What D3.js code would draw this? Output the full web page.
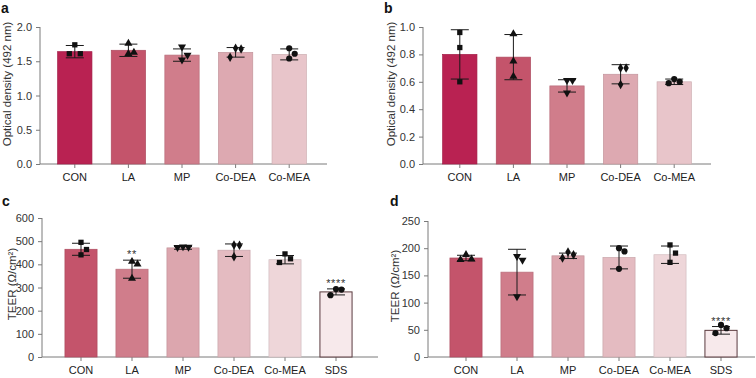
<!DOCTYPE html>
<html><head><meta charset="utf-8">
<script src="https://cdn.jsdelivr.net/npm/d3@7/dist/d3.min.js"></script>
<style>body{margin:0;background:#fff}svg{display:block;font-family:"Liberation Sans",Arial,sans-serif}</style>
</head><body><svg id="c" width="756" height="378"></svg>
<script>
// ---------- data ----------
const catsAB = ["CON","LA","MP","Co-DEA","Co-MEA"];
const catsCD = ["CON","LA","MP","Co-DEA","Co-MEA","SDS"];

const meansA = [1.64, 1.66, 1.59, 1.63, 1.60];
const errA   = [0.09, 0.09, 0.09, 0.07, 0.08];
const ptsA   = [[1.74,1.61,1.61],[1.76,1.63,1.61],[1.71,1.59,1.52],[1.69,1.68,1.56],[1.69,1.61,1.54]];
const ticksA = [0, 0.5, 1.0, 1.5, 2.0];

const meansB = [0.80, 0.78, 0.57, 0.655, 0.60];
const errB   = [0.18, 0.165, 0.045, 0.07, 0.02];
const ptsB   = [[0.96,0.85,0.60],[0.95,0.75,0.64],[0.61,0.61,0.52],[0.70,0.70,0.58],[0.62,0.60,0.59]];
const ticksB = [0, 0.2, 0.4, 0.6, 0.8, 1.0];

const meansC = [465, 379, 471, 461, 420, 281];
const errC   = [26, 39, 6, 27, 18, 13];
const ptsC   = [[495,464,441],[412,401,339],[476,474,473],[483,482,433],[445,424,408],[293,291,267]];
const ticksC = [0,100,200,300,400,500,600];
const sigC   = ["", "**", "", "", "", "****"];

const meansD = [182, 156, 186, 183, 188, 49];
const errD   = [5, 42, 5, 21, 16, 7];
const ptsD   = [[188,180,179],[185,178,111],[193,188,182],[200,194,162],[206,191,174],[59,53,44]];
const ticksD = [0,50,100,150,200,250];
const sigD   = ["", "", "", "", "", "****"];

// ---------- styling ----------
const colsAB = ["#b92252","#c4546b","#d07d8b","#dda9b1","#e8c5ca"];
const colsCD = ["#c4546b","#d07d8b","#dca6ae","#e4bbc1","#eed6d9","#f7e9eb"];
const shpA = ["square","triangle","tridown","diamond","circle"];
const shpC = ["square","triangle","tridown","diamond","square","circle"];
const shpD = ["triangle","tridown","diamond","circle","square","circle"];

const svg = d3.select("#c");

function symPath(kind){
  if(kind==="square") return d3.symbol(d3.symbolSquare, 28)();
  if(kind==="circle") return d3.symbol(d3.symbolCircle, 30)();
  if(kind==="triangle") return d3.symbol(d3.symbolTriangle, 28)();
  if(kind==="tridown") return d3.symbol(d3.symbolTriangle, 28)();
  if(kind==="diamond") return d3.symbol(d3.symbolDiamond, 26)();
}

function panel(o){
  const g = svg.append("g");
  const x = d3.scaleBand().domain(o.cats).range(o.xr).paddingInner(o.pad).paddingOuter(o.pad/2);
  const y = d3.scaleLinear().domain(o.yd).range(o.yr);
  // y axis
  const ya = g.append("g").attr("transform",`translate(${o.ax0},0)`)
    .call(d3.axisLeft(y).tickValues(o.ticks).tickSize(4).tickPadding(4).tickFormat(o.fmt));
  ya.select(".domain").attr("stroke","#7a7a7a").attr("d",`M-0,${o.yr[0]}V${o.yr[1]}`);
  ya.selectAll(".tick line").attr("stroke","#7a7a7a");
  ya.selectAll(".tick text").attr("fill","#333").style("font-size","11px");
  // x axis
  const xa = g.append("g").attr("transform",`translate(0,${o.yr[0]})`)
    .call(d3.axisBottom(x).tickSize(4).tickPadding(5));
  xa.select(".domain").attr("stroke","#7a7a7a").attr("d",`M${o.ax0},0H${o.ax1}`);
  xa.selectAll(".tick line").attr("stroke","#7a7a7a");
  xa.selectAll(".tick text").attr("fill","#222").style("font-size","11px");
  // bars
  g.selectAll("rect.bar").data(o.means).join("rect").attr("class","bar")
    .attr("x",(d,i)=>x(o.cats[i])).attr("width",x.bandwidth())
    .attr("y",d=>y(d)).attr("height",d=>y(0)-y(d))
    .attr("fill",(d,i)=>o.cols[i])
    .attr("stroke",(d,i)=>o.cats[i]==="SDS"?"#5a3a3e":d3.color(o.cols[i]).darker(0.35))
    .attr("stroke-width",(d,i)=>o.cats[i]==="SDS"?1:0.7);
  // error bars
  const cap = 9;
  o.means.forEach((m,i)=>{
    const cx = x(o.cats[i]) + x.bandwidth()/2;
    const e = o.err[i];
    const eg = g.append("g").attr("stroke","#1a1a1a").attr("stroke-width",1);
    eg.append("line").attr("x1",cx).attr("x2",cx).attr("y1",y(m+e)).attr("y2",y(m-e));
    eg.append("line").attr("x1",cx-cap).attr("x2",cx+cap).attr("y1",y(m+e)).attr("y2",y(m+e));
    eg.append("line").attr("x1",cx-cap).attr("x2",cx+cap).attr("y1",y(m-e)).attr("y2",y(m-e));
  });
  // points with simple beeswarm
  const s = 5.5;
  o.pts.forEach((arr,i)=>{
    const cx = x(o.cats[i]) + x.bandwidth()/2;
    const placed = [];
    arr.slice().sort((a,b)=>b-a).forEach(v=>{
      const py = y(v);
      for(const off of [0, s, -s, 2*s, -2*s]){
        const hit = placed.some(p=>Math.abs(p.dx-off)<s*0.9 && Math.abs(p.py-py)<9);
        if(!hit){ placed.push({dx:off,py,v}); break; }
      }
    });
    placed.forEach(p=>{
      const k = o.shapes[i];
      g.append("path").attr("d",symPath(k)).attr("fill","#111")
        .attr("transform",`translate(${cx+p.dx},${p.py})${k==="tridown"?" rotate(180)":""}`);
    });
  });
  // significance
  if(o.sig){
    o.sig.forEach((t,i)=>{
      if(!t) return;
      const cx = x(o.cats[i]) + x.bandwidth()/2;
      g.append("text").attr("x",cx).attr("y",y(o.means[i]+o.err[i]) - 2)
        .attr("text-anchor","middle").attr("fill","#333").style("font-size","11px")
        .style("letter-spacing","0.6px").text(t);
    });
  }
  // y label
  g.append("text").attr("transform",`translate(${o.ylx},${o.yly}) rotate(-90)`)
    .attr("text-anchor","middle").attr("fill","#333").style("font-size","11.5px").text(o.ylab);
  // panel letter
  g.append("text").attr("x",o.lx).attr("y",o.ly).attr("font-weight","bold")
    .attr("fill","#111").style("font-size","14px").text(o.letter);
}

const f1 = d3.format(".1f");
panel({cats:catsAB, means:meansA, err:errA, pts:ptsA, ticks:ticksA, fmt:f1, yd:[0,2], yr:[164,27],
  xr:[48,316], pad:0.36, ax0:40, ax1:327, cols:colsAB, shapes:shpA,
  ylab:"Optical density (492 nm)", ylx:11, yly:84, letter:"a", lx:1, ly:13});
panel({cats:catsAB, means:meansB, err:errB, pts:ptsB, ticks:ticksB, fmt:f1, yd:[0,1], yr:[164,27],
  xr:[433,701], pad:0.36, ax0:423, ax1:711, cols:colsAB, shapes:shpA,
  ylab:"Optical density (492 nm)", ylx:395, yly:84, letter:"b", lx:384, ly:13});
panel({cats:catsCD, means:meansC, err:errC, pts:ptsC, ticks:ticksC, fmt:d3.format("d"), yd:[0,600], yr:[357,218],
  xr:[55.5,361.5], pad:0.37, ax0:42, ax1:378, cols:colsCD, shapes:shpC, sig:sigC,
  ylab:"TEER (Ω/cm²)", ylx:16, yly:284, letter:"c", lx:2, ly:206});
panel({cats:catsCD, means:meansD, err:errD, pts:ptsD, ticks:ticksD, fmt:d3.format("d"), yd:[0,250], yr:[357,221],
  xr:[440.5,746.5], pad:0.37, ax0:428, ax1:755, cols:colsCD, shapes:shpD, sig:sigD,
  ylab:"TEER (Ω/cm²)", ylx:399, yly:286, letter:"d", lx:390, ly:206});
</script></body></html>
